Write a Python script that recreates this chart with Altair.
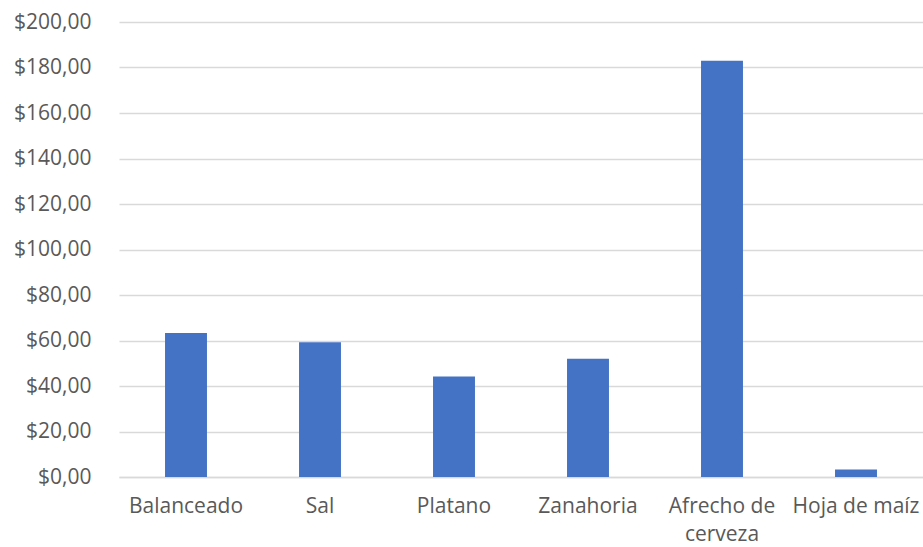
import altair as alt
import pandas as pd

# Cost per ingredient (USD)
ingredientes = ["Balanceado", "Sal", "Platano", "Zanahoria", "Afrecho de cerveza", "Hoja de maíz"]
costos = [63.30, 59.25, 44.20, 52.00, 183.00, 3.25]
y_ticks = [0, 20, 40, 60, 80, 100, 120, 140, 160, 180, 200]

df = pd.DataFrame({"ingrediente": ingredientes, "costo": costos})

FONT = "Open Sans"
TEXT = "#595959"
GRID = "#D9D9D9"

chart = (
    alt.Chart(df)
    .mark_bar(color="#4472C4")
    .encode(
        x=alt.X(
            "ingrediente:N",
            sort=ingredientes,
            title=None,
            scale=alt.Scale(paddingInner=0.687, paddingOuter=0.3435),
            axis=alt.Axis(
                labelAngle=0,
                labelFont=FONT,
                labelFontSize=21,
                labelColor=TEXT,
                labelPadding=18,
                labelLineHeight=28,
                labelBaseline="top",
                ticks=False,
                domain=True,
                domainColor=GRID,
                domainWidth=1.3,
                labelExpr="datum.label == 'Afrecho de cerveza' ? ['Afrecho de', 'cerveza'] : datum.label",
            ),
        ),
        y=alt.Y(
            "costo:Q",
            title=None,
            scale=alt.Scale(domain=[0, 200], nice=False),
            axis=alt.Axis(
                values=y_ticks,
                labelFont=FONT,
                labelFontSize=21,
                labelColor=TEXT,
                labelPadding=28,
                ticks=False,
                domain=False,
                gridColor=GRID,
                gridWidth=1.3,
                labelExpr="'$' + replace(format(datum.value, '.2f'), '.', ',')",
            ),
        ),
    )
    .properties(
        width=804,
        height=455,
        padding={"left": 119, "top": 22, "right": 0, "bottom": 70},
        autosize=alt.AutoSizeParams(type="none"),
        background="white",
    )
    .configure_view(stroke=None)
)

chart.save("out.html", embed_options={"renderer": "svg", "actions": False})
